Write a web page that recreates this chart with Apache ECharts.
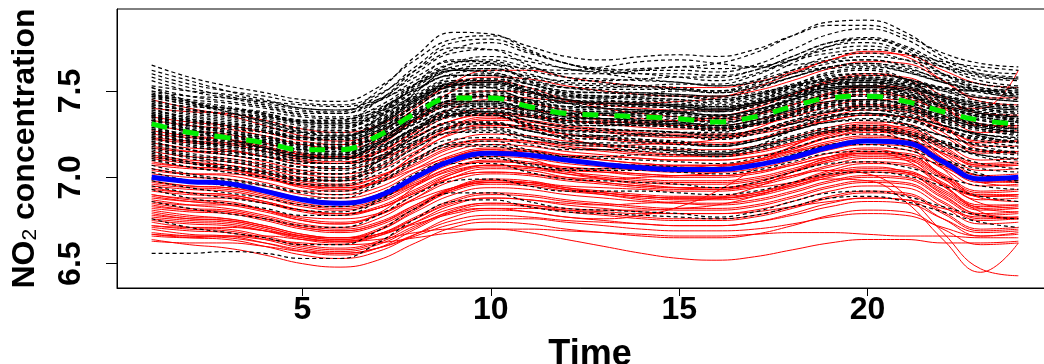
<!DOCTYPE html>
<html>
<head>
<meta charset="utf-8">
<script src="https://cdn.jsdelivr.net/npm/echarts/dist/echarts.min.js"></script>
<style>
html,body{margin:0;padding:0;background:#fff;}
#chart{width:1044px;height:364px;}
</style>
</head>
<body>
<div id="chart"></div>
<script>
const hours = [1,2,3,4,5,6,7,8,9,10,11,12,13,14,15,16,17,18,19,20,21,22,23,24];
const xTicks = [5,10,15,20];
const yTicks = [6.5,7.0,7.5];
const yTickLabels = ['6.5','7.0','7.5'];

const blackMean = [7.31,7.26,7.23,7.20,7.16,7.16,7.24,7.37,7.46,7.46,7.41,7.37,7.36,7.35,7.34,7.32,7.35,7.41,7.46,7.47,7.44,7.38,7.33,7.31];
const redMean = [7.00,6.975,6.965,6.92,6.87,6.85,6.89,7.00,7.10,7.14,7.13,7.10,7.075,7.055,7.045,7.045,7.07,7.115,7.175,7.21,7.20,7.09,6.99,7.00];

const blackCurves = [
[7.65,7.58,7.53,7.49,7.45,7.44,7.52,7.68,7.80,7.82,7.76,7.70,7.68,7.70,7.71,7.70,7.74,7.82,7.88,7.88,7.82,7.72,7.66,7.64],
[7.60,7.54,7.50,7.47,7.43,7.42,7.48,7.62,7.74,7.78,7.72,7.66,7.62,7.63,7.64,7.66,7.72,7.82,7.90,7.91,7.84,7.70,7.62,7.60],
[7.56,7.50,7.46,7.42,7.38,7.38,7.50,7.70,7.84,7.83,7.74,7.66,7.62,7.60,7.58,7.56,7.60,7.68,7.74,7.76,7.72,7.64,7.58,7.56],
[7.53,7.50,7.48,7.44,7.40,7.39,7.44,7.56,7.66,7.68,7.64,7.60,7.60,7.62,7.64,7.63,7.64,7.68,7.72,7.74,7.72,7.67,7.64,7.62],
[7.50,7.47,7.46,7.44,7.42,7.41,7.45,7.54,7.62,7.65,7.63,7.62,7.64,7.67,7.68,7.66,7.64,7.65,7.68,7.70,7.68,7.64,7.60,7.58],
[7.49,7.43,7.40,7.36,7.32,7.31,7.38,7.53,7.64,7.66,7.60,7.55,7.54,7.53,7.52,7.50,7.54,7.62,7.70,7.72,7.68,7.60,7.54,7.51],
[7.46,7.42,7.38,7.35,7.31,7.30,7.36,7.50,7.62,7.63,7.57,7.52,7.50,7.49,7.48,7.47,7.51,7.58,7.64,7.66,7.62,7.55,7.49,7.47],
[7.45,7.40,7.36,7.33,7.28,7.27,7.33,7.45,7.54,7.55,7.50,7.47,7.47,7.48,7.50,7.50,7.56,7.66,7.76,7.80,7.74,7.60,7.50,7.46],
[7.43,7.38,7.35,7.32,7.28,7.28,7.37,7.52,7.62,7.61,7.54,7.49,7.47,7.46,7.45,7.43,7.46,7.52,7.57,7.58,7.55,7.50,7.46,7.44],
[7.41,7.37,7.34,7.31,7.27,7.26,7.33,7.46,7.56,7.57,7.52,7.48,7.47,7.46,7.45,7.44,7.47,7.53,7.58,7.60,7.57,7.50,7.44,7.42],
[7.40,7.34,7.30,7.27,7.23,7.23,7.34,7.54,7.68,7.66,7.56,7.48,7.45,7.43,7.41,7.39,7.42,7.48,7.54,7.56,7.53,7.47,7.42,7.40],
[7.39,7.35,7.32,7.29,7.25,7.24,7.31,7.44,7.53,7.54,7.49,7.45,7.44,7.44,7.43,7.41,7.44,7.50,7.55,7.56,7.53,7.47,7.42,7.40],
[7.37,7.32,7.29,7.26,7.22,7.21,7.29,7.42,7.51,7.52,7.47,7.43,7.42,7.41,7.40,7.38,7.41,7.47,7.53,7.54,7.51,7.45,7.40,7.38],
[7.36,7.33,7.31,7.29,7.26,7.25,7.29,7.38,7.45,7.47,7.45,7.43,7.43,7.43,7.42,7.41,7.43,7.47,7.51,7.53,7.51,7.47,7.43,7.41],
[7.35,7.30,7.26,7.23,7.19,7.19,7.27,7.41,7.50,7.50,7.45,7.41,7.40,7.39,7.38,7.36,7.39,7.46,7.52,7.53,7.49,7.42,7.37,7.35],
[7.34,7.29,7.26,7.23,7.19,7.18,7.26,7.39,7.48,7.49,7.44,7.40,7.39,7.38,7.37,7.35,7.38,7.44,7.49,7.50,7.47,7.41,7.36,7.34],
[7.33,7.28,7.24,7.21,7.17,7.17,7.24,7.36,7.44,7.44,7.40,7.37,7.37,7.38,7.38,7.38,7.43,7.52,7.60,7.62,7.56,7.45,7.37,7.34],
[7.32,7.27,7.24,7.21,7.17,7.17,7.25,7.38,7.47,7.47,7.42,7.38,7.37,7.36,7.35,7.33,7.36,7.42,7.47,7.48,7.45,7.39,7.34,7.32],
[7.31,7.27,7.25,7.22,7.18,7.17,7.23,7.34,7.42,7.43,7.40,7.37,7.36,7.36,7.35,7.34,7.37,7.43,7.48,7.50,7.47,7.41,7.35,7.32],
[7.30,7.24,7.20,7.17,7.13,7.13,7.24,7.42,7.54,7.52,7.44,7.37,7.34,7.32,7.30,7.28,7.31,7.37,7.42,7.43,7.40,7.35,7.31,7.30],
[7.29,7.24,7.21,7.18,7.14,7.14,7.22,7.35,7.44,7.44,7.39,7.35,7.34,7.33,7.32,7.30,7.33,7.39,7.44,7.45,7.42,7.36,7.31,7.29],
[7.28,7.24,7.22,7.19,7.15,7.14,7.20,7.31,7.39,7.40,7.37,7.34,7.34,7.34,7.33,7.32,7.34,7.39,7.43,7.45,7.43,7.38,7.33,7.30],
[7.27,7.22,7.19,7.16,7.12,7.12,7.20,7.33,7.42,7.42,7.37,7.33,7.32,7.31,7.30,7.28,7.31,7.37,7.42,7.43,7.40,7.34,7.29,7.27],
[7.26,7.21,7.18,7.15,7.11,7.11,7.19,7.32,7.41,7.41,7.36,7.32,7.31,7.30,7.29,7.27,7.30,7.36,7.41,7.42,7.39,7.33,7.28,7.26],
[7.25,7.20,7.17,7.14,7.10,7.10,7.17,7.29,7.37,7.37,7.33,7.30,7.30,7.31,7.31,7.31,7.36,7.45,7.53,7.55,7.49,7.38,7.30,7.26],
[7.23,7.19,7.16,7.13,7.09,7.08,7.15,7.28,7.37,7.38,7.33,7.29,7.28,7.27,7.26,7.24,7.27,7.33,7.38,7.39,7.36,7.30,7.25,7.23],
[7.21,7.16,7.13,7.10,7.06,7.06,7.14,7.27,7.36,7.36,7.31,7.27,7.26,7.25,7.24,7.22,7.25,7.31,7.36,7.37,7.34,7.28,7.23,7.21],
[7.19,7.16,7.14,7.12,7.09,7.08,7.12,7.21,7.29,7.31,7.29,7.27,7.27,7.27,7.26,7.25,7.27,7.31,7.35,7.37,7.35,7.30,7.25,7.22],
[7.17,7.12,7.09,7.06,7.02,7.02,7.10,7.23,7.32,7.32,7.27,7.23,7.22,7.21,7.20,7.18,7.21,7.27,7.32,7.33,7.30,7.24,7.19,7.17],
[7.15,7.09,7.05,7.02,6.98,6.98,7.09,7.27,7.39,7.37,7.29,7.22,7.19,7.17,7.15,7.13,7.16,7.22,7.27,7.28,7.25,7.20,7.16,7.15],
[7.13,7.08,7.05,7.02,6.98,6.98,7.06,7.19,7.28,7.28,7.23,7.19,7.18,7.17,7.16,7.14,7.17,7.23,7.28,7.29,7.26,7.20,7.15,7.13],
[7.10,7.06,7.03,7.00,6.96,6.95,7.02,7.14,7.22,7.23,7.19,7.16,7.16,7.16,7.15,7.14,7.17,7.22,7.27,7.28,7.25,7.19,7.13,7.10],
[7.07,7.02,6.99,6.96,6.92,6.92,6.99,7.11,7.19,7.19,7.15,7.12,7.12,7.13,7.13,7.13,7.18,7.27,7.35,7.37,7.31,7.20,7.12,7.08],
[7.03,6.98,6.95,6.92,6.88,6.88,6.96,7.09,7.18,7.18,7.13,7.09,7.08,7.07,7.06,7.04,7.07,7.13,7.18,7.19,7.16,7.10,7.05,7.03],
[6.98,6.94,6.91,6.88,6.84,6.83,6.90,7.02,7.10,7.11,7.07,7.04,7.04,7.04,7.03,7.02,7.04,7.09,7.14,7.15,7.13,7.07,7.01,6.98],
[6.93,6.88,6.85,6.82,6.78,6.78,6.86,6.99,7.08,7.08,7.03,6.99,6.98,6.97,6.96,6.94,6.97,7.03,7.08,7.09,7.06,7.00,6.95,6.93],
[6.86,6.82,6.79,6.76,6.72,6.71,6.78,6.90,6.98,6.99,6.95,6.92,6.92,6.92,6.91,6.90,6.92,6.97,7.02,7.03,7.01,6.95,6.89,6.86],
[6.76,6.71,6.68,6.65,6.61,6.61,6.69,6.82,6.91,6.91,6.86,6.82,6.81,6.80,6.79,6.77,6.80,6.86,6.91,6.92,6.89,6.83,6.78,6.76],
[6.56,6.56,6.57,6.56,6.53,6.53,6.62,6.76,6.86,6.87,6.83,6.80,6.79,6.78,6.77,6.76,6.78,6.83,6.88,6.89,6.86,6.80,6.74,6.71],
[7.52,7.44,7.38,7.32,7.26,7.24,7.30,7.44,7.54,7.55,7.50,7.46,7.46,7.47,7.47,7.46,7.48,7.53,7.57,7.58,7.56,7.52,7.50,7.50],
[7.44,7.41,7.40,7.38,7.35,7.34,7.38,7.47,7.55,7.57,7.54,7.50,7.49,7.48,7.47,7.45,7.47,7.52,7.56,7.57,7.55,7.52,7.50,7.49],
[7.24,7.20,7.18,7.15,7.12,7.11,7.17,7.28,7.36,7.38,7.35,7.32,7.32,7.32,7.31,7.29,7.31,7.36,7.40,7.41,7.38,7.32,7.27,7.25],
[7.35,7.28,7.22,7.17,7.12,7.11,7.19,7.34,7.45,7.47,7.43,7.39,7.38,7.38,7.37,7.35,7.38,7.45,7.51,7.52,7.48,7.41,7.36,7.34],
[7.20,7.16,7.13,7.10,7.06,7.05,7.12,7.25,7.35,7.36,7.31,7.26,7.24,7.22,7.20,7.18,7.21,7.28,7.34,7.36,7.33,7.27,7.22,7.20],
[7.47,7.44,7.41,7.37,7.33,7.32,7.39,7.54,7.66,7.70,7.67,7.63,7.60,7.57,7.55,7.53,7.55,7.60,7.64,7.65,7.61,7.55,7.51,7.49],
[7.58,7.52,7.47,7.43,7.39,7.37,7.44,7.60,7.72,7.74,7.69,7.63,7.61,7.60,7.60,7.59,7.62,7.70,7.78,7.81,7.76,7.66,7.59,7.57],
[7.42,7.39,7.37,7.34,7.30,7.29,7.35,7.48,7.58,7.60,7.56,7.52,7.51,7.51,7.51,7.50,7.53,7.60,7.66,7.68,7.64,7.56,7.50,7.47],
[7.38,7.33,7.30,7.27,7.23,7.22,7.30,7.45,7.55,7.56,7.50,7.45,7.43,7.42,7.41,7.39,7.42,7.49,7.55,7.57,7.53,7.46,7.40,7.37],
[7.33,7.30,7.28,7.26,7.23,7.22,7.27,7.37,7.45,7.47,7.44,7.41,7.41,7.42,7.42,7.41,7.43,7.48,7.52,7.53,7.50,7.44,7.38,7.35],
[7.28,7.22,7.18,7.15,7.11,7.11,7.20,7.36,7.47,7.47,7.41,7.36,7.34,7.33,7.32,7.30,7.33,7.40,7.46,7.47,7.44,7.37,7.31,7.28],
[7.22,7.18,7.15,7.12,7.08,7.08,7.16,7.29,7.38,7.39,7.35,7.31,7.30,7.30,7.29,7.28,7.31,7.37,7.43,7.45,7.42,7.35,7.28,7.24],
[7.18,7.13,7.10,7.07,7.03,7.02,7.09,7.21,7.30,7.31,7.27,7.24,7.24,7.24,7.24,7.23,7.26,7.32,7.38,7.40,7.37,7.30,7.24,7.20],
[7.12,7.08,7.06,7.03,6.99,6.98,7.05,7.17,7.26,7.27,7.23,7.20,7.20,7.20,7.19,7.18,7.21,7.27,7.32,7.34,7.31,7.24,7.18,7.14],
[7.05,7.01,6.98,6.95,6.91,6.90,6.97,7.10,7.20,7.21,7.16,7.12,7.11,7.10,7.09,7.08,7.11,7.17,7.23,7.25,7.22,7.15,7.08,7.05],
[6.95,6.91,6.88,6.85,6.81,6.80,6.87,7.00,7.10,7.12,7.08,7.05,7.05,7.05,7.05,7.04,7.07,7.13,7.19,7.21,7.18,7.10,7.02,6.97],
[7.62,7.56,7.50,7.45,7.40,7.39,7.47,7.64,7.78,7.80,7.73,7.66,7.63,7.62,7.62,7.61,7.65,7.74,7.83,7.86,7.80,7.68,7.60,7.57],
[7.48,7.45,7.43,7.40,7.36,7.35,7.40,7.51,7.60,7.62,7.59,7.56,7.56,7.57,7.58,7.58,7.62,7.70,7.78,7.80,7.75,7.64,7.56,7.53],
[7.36,7.31,7.27,7.24,7.20,7.19,7.27,7.42,7.53,7.55,7.50,7.45,7.43,7.42,7.41,7.40,7.43,7.49,7.54,7.55,7.52,7.46,7.41,7.39],
[7.26,7.23,7.21,7.19,7.16,7.15,7.20,7.31,7.40,7.42,7.39,7.36,7.36,7.37,7.37,7.36,7.39,7.45,7.50,7.51,7.48,7.41,7.35,7.32],
[7.16,7.11,7.07,7.04,7.00,7.00,7.09,7.25,7.36,7.36,7.30,7.25,7.23,7.22,7.21,7.19,7.22,7.29,7.35,7.37,7.34,7.27,7.21,7.18],
[7.52,7.47,7.44,7.41,7.37,7.37,7.45,7.58,7.67,7.67,7.62,7.58,7.57,7.56,7.55,7.53,7.56,7.62,7.67,7.68,7.65,7.59,7.54,7.52],
[7.50,7.44,7.40,7.37,7.33,7.33,7.44,7.62,7.75,7.74,7.65,7.58,7.55,7.53,7.51,7.49,7.52,7.58,7.64,7.66,7.63,7.57,7.52,7.50],
[7.48,7.43,7.40,7.37,7.33,7.33,7.41,7.54,7.63,7.63,7.58,7.54,7.53,7.52,7.51,7.49,7.52,7.58,7.63,7.64,7.61,7.55,7.50,7.48],
[7.47,7.42,7.39,7.36,7.32,7.32,7.39,7.51,7.59,7.59,7.55,7.52,7.52,7.53,7.54,7.54,7.59,7.68,7.76,7.78,7.72,7.60,7.52,7.48],
[7.44,7.39,7.36,7.33,7.29,7.29,7.37,7.50,7.59,7.59,7.54,7.50,7.49,7.48,7.47,7.45,7.48,7.54,7.59,7.60,7.57,7.51,7.46,7.44],
[7.42,7.39,7.37,7.35,7.32,7.31,7.36,7.46,7.53,7.55,7.52,7.49,7.49,7.49,7.48,7.47,7.49,7.53,7.57,7.59,7.57,7.52,7.47,7.45],
[7.41,7.36,7.33,7.30,7.26,7.26,7.34,7.47,7.56,7.56,7.51,7.47,7.46,7.45,7.44,7.42,7.45,7.51,7.56,7.57,7.54,7.48,7.43,7.41],
[7.39,7.34,7.31,7.28,7.24,7.24,7.32,7.45,7.54,7.54,7.49,7.45,7.44,7.43,7.42,7.40,7.43,7.49,7.54,7.55,7.52,7.46,7.41,7.39],
[7.38,7.33,7.30,7.27,7.23,7.23,7.31,7.44,7.53,7.53,7.48,7.44,7.43,7.42,7.41,7.39,7.42,7.48,7.53,7.55,7.54,7.51,7.50,7.52],
[7.37,7.32,7.29,7.26,7.22,7.22,7.30,7.43,7.52,7.52,7.47,7.43,7.42,7.41,7.40,7.38,7.41,7.47,7.52,7.53,7.50,7.44,7.39,7.37],
[7.36,7.30,7.26,7.23,7.19,7.19,7.30,7.49,7.62,7.60,7.50,7.43,7.40,7.39,7.38,7.36,7.39,7.45,7.51,7.52,7.49,7.43,7.38,7.36],
[7.35,7.30,7.27,7.24,7.20,7.20,7.28,7.41,7.50,7.50,7.45,7.41,7.40,7.39,7.38,7.36,7.39,7.45,7.50,7.51,7.48,7.42,7.37,7.35],
[7.33,7.28,7.25,7.22,7.18,7.18,7.26,7.39,7.48,7.48,7.43,7.39,7.38,7.37,7.36,7.34,7.37,7.43,7.48,7.49,7.46,7.40,7.35,7.33],
[7.32,7.27,7.24,7.21,7.17,7.17,7.24,7.36,7.44,7.44,7.40,7.37,7.37,7.38,7.39,7.39,7.44,7.53,7.61,7.63,7.57,7.45,7.37,7.33],
[7.31,7.26,7.23,7.20,7.16,7.16,7.24,7.37,7.46,7.46,7.41,7.37,7.36,7.35,7.34,7.32,7.35,7.41,7.46,7.47,7.44,7.38,7.33,7.31],
[7.29,7.25,7.23,7.20,7.16,7.15,7.22,7.34,7.43,7.44,7.39,7.35,7.34,7.33,7.32,7.30,7.33,7.39,7.44,7.45,7.42,7.36,7.30,7.28],
[7.28,7.23,7.20,7.17,7.13,7.13,7.21,7.34,7.43,7.43,7.38,7.34,7.33,7.32,7.31,7.29,7.32,7.38,7.43,7.44,7.41,7.35,7.30,7.28],
[7.26,7.21,7.18,7.15,7.11,7.11,7.19,7.32,7.41,7.41,7.36,7.32,7.31,7.30,7.29,7.27,7.30,7.36,7.41,7.42,7.39,7.33,7.28,7.26],
[7.24,7.21,7.19,7.17,7.14,7.13,7.18,7.28,7.36,7.38,7.36,7.33,7.32,7.31,7.30,7.29,7.31,7.35,7.39,7.41,7.39,7.34,7.29,7.26],
[7.23,7.18,7.15,7.12,7.08,7.08,7.16,7.29,7.38,7.38,7.33,7.29,7.28,7.27,7.26,7.24,7.27,7.33,7.38,7.39,7.36,7.30,7.25,7.23],
[7.21,7.16,7.13,7.10,7.06,7.06,7.14,7.27,7.36,7.36,7.31,7.27,7.26,7.25,7.24,7.22,7.25,7.31,7.36,7.37,7.34,7.28,7.23,7.21],
[7.19,7.14,7.11,7.08,7.04,7.04,7.11,7.23,7.31,7.31,7.27,7.24,7.24,7.25,7.26,7.26,7.31,7.40,7.48,7.50,7.44,7.32,7.24,7.20],
[7.17,7.12,7.09,7.06,7.02,7.02,7.10,7.23,7.32,7.32,7.27,7.23,7.22,7.21,7.20,7.18,7.21,7.27,7.32,7.33,7.30,7.24,7.19,7.17],
[7.14,7.09,7.06,7.03,6.99,6.99,7.07,7.20,7.29,7.29,7.24,7.20,7.19,7.18,7.17,7.15,7.18,7.24,7.29,7.30,7.27,7.21,7.16,7.14],
[7.11,7.06,7.03,7.00,6.96,6.96,7.04,7.17,7.26,7.26,7.21,7.17,7.16,7.15,7.14,7.12,7.15,7.21,7.26,7.27,7.24,7.18,7.13,7.11]
];

const redCurves = [
[7.40,7.38,7.37,7.33,7.28,7.26,7.30,7.42,7.54,7.58,7.57,7.53,7.50,7.48,7.47,7.47,7.50,7.56,7.63,7.67,7.66,7.56,7.46,7.46],
[7.35,7.32,7.30,7.26,7.21,7.19,7.23,7.33,7.43,7.47,7.46,7.44,7.43,7.43,7.44,7.46,7.52,7.60,7.68,7.73,7.70,7.56,7.44,7.42],
[7.30,7.27,7.25,7.20,7.14,7.12,7.18,7.34,7.50,7.56,7.52,7.45,7.40,7.37,7.35,7.34,7.37,7.42,7.48,7.52,7.51,7.40,7.30,7.30],
[7.25,7.23,7.22,7.18,7.13,7.11,7.15,7.26,7.36,7.40,7.39,7.36,7.33,7.31,7.30,7.30,7.33,7.38,7.44,7.48,7.47,7.36,7.26,7.27],
[7.22,7.20,7.19,7.15,7.10,7.08,7.12,7.23,7.33,7.37,7.36,7.33,7.31,7.29,7.28,7.28,7.30,7.35,7.41,7.45,7.45,7.40,7.40,7.62],
[7.20,7.17,7.16,7.12,7.07,7.05,7.09,7.20,7.30,7.34,7.33,7.30,7.28,7.26,7.25,7.25,7.27,7.32,7.38,7.42,7.41,7.30,7.20,7.21],
[7.17,7.15,7.15,7.12,7.09,7.08,7.11,7.19,7.27,7.30,7.30,7.28,7.26,7.24,7.23,7.23,7.25,7.29,7.33,7.36,7.35,7.28,7.21,7.21],
[7.15,7.12,7.11,7.07,7.02,7.00,7.04,7.15,7.25,7.29,7.28,7.25,7.23,7.21,7.20,7.20,7.22,7.27,7.33,7.36,7.35,7.24,7.14,7.15],
[7.13,7.10,7.09,7.05,7.00,6.98,7.01,7.10,7.19,7.22,7.21,7.19,7.18,7.19,7.20,7.22,7.28,7.37,7.46,7.50,7.46,7.30,7.16,7.14],
[7.11,7.08,7.07,7.03,6.98,6.96,7.00,7.11,7.21,7.25,7.24,7.21,7.19,7.17,7.16,7.16,7.18,7.23,7.29,7.32,7.31,7.20,7.10,7.11],
[7.09,7.06,7.05,7.00,6.94,6.92,6.98,7.14,7.30,7.35,7.30,7.23,7.18,7.15,7.13,7.12,7.15,7.20,7.26,7.30,7.29,7.18,7.08,7.09],
[7.07,7.05,7.04,7.00,6.95,6.93,6.97,7.07,7.17,7.21,7.20,7.17,7.15,7.13,7.12,7.12,7.14,7.19,7.25,7.28,7.27,7.16,7.06,7.07],
[7.05,7.02,7.01,6.97,6.92,6.90,6.94,7.05,7.15,7.19,7.18,7.15,7.13,7.11,7.10,7.10,7.12,7.17,7.23,7.26,7.25,7.14,7.04,7.05],
[7.04,7.02,7.02,6.99,6.95,6.94,6.97,7.05,7.12,7.15,7.15,7.13,7.12,7.11,7.10,7.10,7.12,7.15,7.19,7.22,7.21,7.14,7.07,7.07],
[7.02,7.00,6.99,6.95,6.90,6.88,6.92,7.03,7.13,7.17,7.16,7.13,7.10,7.08,7.07,7.07,7.09,7.14,7.20,7.23,7.22,7.11,7.01,7.02],
[7.00,6.98,6.97,6.93,6.88,6.86,6.90,7.00,7.10,7.14,7.13,7.10,7.08,7.07,7.06,7.07,7.10,7.16,7.24,7.28,7.25,7.05,6.88,6.86],
[6.98,6.95,6.94,6.90,6.85,6.83,6.87,6.98,7.08,7.12,7.11,7.08,7.06,7.04,7.03,7.03,7.05,7.10,7.16,7.19,7.18,7.07,6.97,6.98],
[6.96,6.94,6.93,6.89,6.84,6.82,6.86,6.96,7.06,7.10,7.09,7.06,7.04,7.02,7.01,7.01,7.03,7.08,7.14,7.17,7.16,7.05,6.95,6.96],
[6.94,6.91,6.90,6.86,6.81,6.79,6.82,6.91,7.00,7.03,7.02,7.00,6.99,7.00,7.01,7.03,7.09,7.18,7.27,7.31,7.27,7.11,6.97,6.95],
[6.92,6.90,6.89,6.85,6.80,6.78,6.82,6.92,7.02,7.06,7.05,7.02,7.00,6.98,6.97,6.97,6.99,7.04,7.10,7.13,7.12,7.01,6.91,6.92],
[6.90,6.87,6.86,6.81,6.75,6.73,6.79,6.95,7.11,7.16,7.11,7.04,6.99,6.96,6.94,6.93,6.96,7.01,7.07,7.11,7.10,6.99,6.89,6.90],
[6.88,6.86,6.85,6.81,6.76,6.74,6.78,6.88,6.98,7.02,7.01,6.98,6.96,6.94,6.93,6.93,6.95,7.00,7.06,7.09,7.08,6.97,6.87,6.88],
[6.86,6.84,6.84,6.81,6.77,6.76,6.79,6.87,6.94,6.97,6.97,6.95,6.94,6.93,6.92,6.92,6.94,6.97,7.01,7.04,7.03,6.96,6.89,6.89],
[6.84,6.81,6.80,6.76,6.71,6.69,6.73,6.84,6.94,6.98,6.97,6.94,6.92,6.90,6.89,6.89,6.91,6.96,7.02,7.05,7.04,6.93,6.83,6.84],
[6.82,6.80,6.79,6.75,6.70,6.68,6.72,6.82,6.92,6.96,6.95,6.92,6.90,6.88,6.87,6.87,6.89,6.94,7.00,7.03,7.02,6.91,6.81,6.82],
[6.80,6.77,6.76,6.72,6.67,6.65,6.69,6.80,6.90,6.94,6.93,6.90,6.88,6.86,6.85,6.85,6.87,6.92,6.98,7.01,7.00,6.89,6.79,6.80],
[6.78,6.76,6.75,6.71,6.66,6.64,6.67,6.76,6.85,6.88,6.87,6.85,6.84,6.85,6.86,6.88,6.94,7.03,7.12,7.16,7.12,6.96,6.82,6.80],
[6.76,6.74,6.73,6.69,6.64,6.62,6.66,6.76,6.86,6.90,6.89,6.86,6.84,6.82,6.81,6.81,6.83,6.88,6.94,6.97,6.96,6.85,6.75,6.76],
[6.74,6.71,6.70,6.66,6.61,6.59,6.63,6.74,6.84,6.88,6.87,6.84,6.82,6.80,6.79,6.79,6.81,6.86,6.92,6.95,6.94,6.83,6.73,6.74],
[6.72,6.71,6.71,6.69,6.66,6.65,6.67,6.73,6.79,6.82,6.82,6.81,6.80,6.79,6.79,6.79,6.80,6.83,6.86,6.88,6.87,6.82,6.77,6.77],
[6.70,6.67,6.66,6.62,6.57,6.55,6.59,6.70,6.80,6.84,6.83,6.80,6.78,6.76,6.75,6.75,6.77,6.82,6.88,6.91,6.90,6.79,6.69,6.70],
[6.67,6.65,6.64,6.60,6.55,6.53,6.57,6.67,6.77,6.81,6.80,6.77,6.75,6.73,6.72,6.72,6.74,6.79,6.85,6.88,6.87,6.76,6.66,6.67],
[6.64,6.61,6.59,6.55,6.50,6.48,6.52,6.62,6.71,6.74,6.73,6.70,6.68,6.66,6.65,6.65,6.67,6.72,6.78,6.81,6.80,6.70,6.61,6.62],
[6.66,6.65,6.66,6.66,6.64,6.63,6.64,6.68,6.70,6.70,6.68,6.64,6.60,6.56,6.53,6.52,6.54,6.58,6.62,6.64,6.64,6.62,6.62,6.63],
[6.67,6.66,6.66,6.64,6.62,6.61,6.62,6.65,6.68,6.70,6.70,6.69,6.68,6.67,6.66,6.66,6.67,6.68,6.68,6.67,6.66,6.66,6.65,6.65],
[6.90,6.88,6.88,6.85,6.81,6.79,6.82,6.91,7.00,7.03,7.02,6.99,6.97,6.95,6.94,6.94,6.96,7.01,7.04,7.02,6.90,6.68,6.47,6.43],
[6.85,6.82,6.81,6.77,6.72,6.70,6.74,6.84,6.93,6.97,6.96,6.93,6.91,6.89,6.88,6.88,6.90,6.95,6.99,6.98,6.86,6.64,6.45,6.62],
[6.72,6.70,6.69,6.65,6.60,6.58,6.62,6.72,6.80,6.82,6.80,6.77,6.76,6.78,6.83,6.92,7.05,7.18,7.27,7.28,7.20,7.00,6.85,6.82],
[7.45,7.40,7.36,7.30,7.24,7.21,7.26,7.40,7.55,7.62,7.62,7.58,7.55,7.53,7.52,7.52,7.55,7.61,7.68,7.72,7.71,7.62,7.54,7.52],
[6.95,6.93,6.92,6.88,6.83,6.81,6.85,6.95,7.05,7.09,7.08,7.05,7.03,7.01,7.00,7.00,7.02,7.07,7.12,7.14,7.10,6.95,6.80,6.76],
[7.27,7.24,7.22,7.17,7.11,7.09,7.14,7.27,7.40,7.45,7.43,7.39,7.36,7.34,7.33,7.33,7.36,7.42,7.49,7.53,7.52,7.41,7.30,7.30],
[6.79,6.76,6.75,6.71,6.66,6.64,6.69,6.81,6.93,6.98,6.97,6.93,6.90,6.87,6.85,6.84,6.86,6.91,6.97,7.00,6.99,6.88,6.78,6.79],
[6.87,6.84,6.82,6.78,6.73,6.71,6.76,6.88,7.00,7.05,7.04,7.00,6.97,6.95,6.94,6.94,6.97,7.03,7.10,7.14,7.13,7.01,6.89,6.90],
[6.99,6.97,6.96,6.92,6.87,6.85,6.88,6.97,7.06,7.09,7.08,7.06,7.05,7.05,7.05,7.06,7.09,7.15,7.21,7.24,7.22,7.10,6.98,6.97],
[6.63,6.62,6.62,6.60,6.57,6.56,6.59,6.66,6.73,6.76,6.76,6.74,6.72,6.70,6.69,6.69,6.70,6.73,6.77,6.79,6.78,6.71,6.66,6.68],
[7.33,7.30,7.28,7.24,7.19,7.17,7.21,7.33,7.45,7.50,7.49,7.45,7.42,7.40,7.39,7.39,7.42,7.48,7.55,7.59,7.58,7.47,7.37,7.36],
[7.18,7.15,7.13,7.09,7.04,7.02,7.06,7.18,7.29,7.33,7.32,7.29,7.27,7.25,7.24,7.24,7.26,7.31,7.37,7.41,7.40,7.29,7.18,7.18],
[7.08,7.06,7.05,7.01,6.96,6.94,6.98,7.08,7.18,7.22,7.21,7.18,7.16,7.14,7.13,7.13,7.15,7.20,7.26,7.29,7.28,7.17,7.07,7.08],
[7.01,6.98,6.96,6.92,6.87,6.85,6.89,7.01,7.12,7.16,7.15,7.12,7.10,7.08,7.07,7.07,7.10,7.16,7.23,7.27,7.26,7.13,7.01,7.00],
[6.93,6.91,6.90,6.86,6.81,6.79,6.83,6.93,7.03,7.07,7.06,7.03,7.01,6.99,6.98,6.98,7.00,7.05,7.11,7.14,7.13,7.02,6.92,6.93],
[6.89,6.86,6.84,6.80,6.75,6.73,6.78,6.90,7.02,7.07,7.06,7.02,6.99,6.97,6.96,6.96,6.98,7.03,7.09,7.12,7.11,7.00,6.90,6.90],
[6.83,6.81,6.80,6.76,6.71,6.69,6.73,6.83,6.93,6.97,6.96,6.93,6.91,6.89,6.88,6.88,6.90,6.95,7.01,7.04,7.03,6.92,6.82,6.83],
[6.77,6.75,6.74,6.70,6.65,6.63,6.67,6.77,6.87,6.91,6.90,6.87,6.85,6.83,6.82,6.82,6.84,6.89,6.95,6.98,6.97,6.86,6.76,6.77],
[6.71,6.69,6.68,6.64,6.59,6.57,6.61,6.71,6.81,6.85,6.84,6.81,6.79,6.77,6.76,6.76,6.78,6.83,6.89,6.92,6.91,6.80,6.70,6.71],
[6.68,6.66,6.65,6.62,6.58,6.56,6.59,6.67,6.75,6.78,6.77,6.75,6.74,6.73,6.72,6.72,6.74,6.78,6.83,6.86,6.85,6.76,6.68,6.69],
[7.23,7.21,7.20,7.17,7.13,7.11,7.14,7.24,7.33,7.36,7.35,7.33,7.32,7.32,7.33,7.35,7.40,7.48,7.56,7.60,7.57,7.43,7.31,7.29],
[6.97,6.95,6.94,6.91,6.87,6.85,6.88,6.96,7.04,7.07,7.06,7.04,7.03,7.02,7.01,7.01,7.03,7.07,7.12,7.15,7.14,7.06,6.98,6.98],
[6.81,6.78,6.76,6.72,6.67,6.65,6.70,6.82,6.94,6.99,6.98,6.94,6.91,6.89,6.88,6.88,6.91,6.97,7.04,7.08,7.07,6.95,6.84,6.84],
[6.75,6.73,6.72,6.69,6.65,6.63,6.66,6.74,6.82,6.85,6.84,6.82,6.81,6.81,6.82,6.84,6.89,6.96,7.03,7.06,7.03,6.90,6.78,6.76],
[7.12,7.09,7.07,7.03,6.97,6.95,7.00,7.13,7.26,7.31,7.29,7.25,7.22,7.20,7.19,7.19,7.22,7.28,7.35,7.39,7.38,7.26,7.15,7.15]
];

const FONT = "'Liberation Sans', Arial, Helvetica, sans-serif";

function toPairs(values) {
  return hours.map((h, i) => [h, values[i]]);
}

const series = [];
redCurves.forEach((c, i) => {
  series.push({
    type: 'line', name: 'r' + i, data: toPairs(c), smooth: 0.45,
    showSymbol: false, silent: true, animation: false,
    lineStyle: { color: '#ff0000', width: 1 },
    z: 2
  });
});
blackCurves.forEach((c, i) => {
  series.push({
    type: 'line', name: 'b' + i, data: toPairs(c), smooth: 0.45,
    showSymbol: false, silent: true, animation: false,
    lineStyle: { color: '#000000', width: 1.2, type: [4, 3] },
    z: 3
  });
});
series.push({
  type: 'line', name: 'blackMean', data: toPairs(blackMean), smooth: 0.45,
  showSymbol: false, silent: true, animation: false,
  lineStyle: { color: '#00ee00', width: 5, type: [16, 16] },
  z: 5
});
series.push({
  type: 'line', name: 'redMean', data: toPairs(redMean), smooth: 0.45,
  showSymbol: false, silent: true, animation: false,
  lineStyle: { color: '#0000ff', width: 5 },
  z: 5
});

const chart = echarts.init(document.getElementById('chart'), null, { renderer: 'canvas' });
chart.setOption({
  backgroundColor: '#ffffff',
  animation: false,
  grid: {
    left: 117, top: 9, width: 936, height: 279,
    outerBoundsMode: 'none', containLabel: false,
    show: true, borderColor: '#000000', borderWidth: 1, backgroundColor: 'transparent'
  },
  xAxis: {
    type: 'value', min: 0.08, max: 24.92,
    name: 'Time', nameLocation: 'middle', nameGap: 49,
    nameTextStyle: { fontFamily: FONT, fontWeight: 'bold', fontSize: 36, color: '#000', padding: [0, 0, 0, 10] },
    axisLine: { show: true, onZero: false, lineStyle: { color: '#000', width: 1 } },
    axisTick: { show: true, customValues: xTicks, length: 8, lineStyle: { color: '#000', width: 1 } },
    axisLabel: { show: true, customValues: xTicks, margin: 6, fontFamily: FONT, fontWeight: 'bold', fontSize: 32, color: '#000' },
    splitLine: { show: false }
  },
  yAxis: {
    type: 'value', min: 6.359, max: 7.975,
    name: '{a|NO}{b|2}{a| concentration}',
    nameLocation: 'middle', nameRotate: 90, nameGap: 76,
    nameTextStyle: {
      color: '#000',
      rich: {
        a: { fontFamily: FONT, fontWeight: 'bold', fontSize: 32, lineHeight: 32, color: '#000' },
        b: { fontFamily: FONT, fontWeight: 'normal', fontSize: 21, lineHeight: 12, verticalAlign: 'bottom', color: '#000' }
      }
    },
    axisLine: { show: true, onZero: false, lineStyle: { color: '#000', width: 1 } },
    axisTick: { show: true, customValues: yTicks, length: 11, lineStyle: { color: '#000', width: 1 } },
    axisLabel: {
      show: true, customValues: yTicks, rotate: 90, margin: 30,
      fontFamily: FONT, fontWeight: 'bold', fontSize: 32, color: '#000',
      formatter: function (v) {
        const i = yTicks.findIndex(t => Math.abs(t - v) < 1e-9);
        return i >= 0 ? yTickLabels[i] : '';
      }
    },
    splitLine: { show: false }
  },
  series: series
});
</script>
</body>
</html>
